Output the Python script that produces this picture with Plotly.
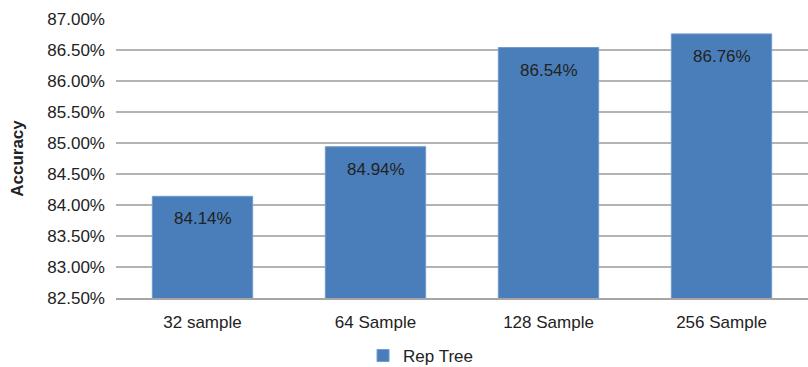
import plotly.graph_objects as go

categories = ["32 sample", "64 Sample", "128 Sample", "256 Sample"]
accuracy = [84.14, 84.94, 86.54, 86.76]
series_name = "Rep Tree"
y_ticks = [82.5 + 0.5 * i for i in range(10)]
y_tick_labels = [f"{v:.2f}%" for v in y_ticks]

font_family = "Liberation Sans, Arial, sans-serif"

fig = go.Figure(
    go.Bar(
        x=categories,
        y=accuracy,
        name=series_name,
        marker=dict(color="#4a7ebb", line=dict(color="#6f9bd0", width=1)),
        showlegend=True,
    )
)

# value labels placed just below the top of each bar
for cat, val in zip(categories, accuracy):
    fig.add_annotation(
        x=cat,
        y=val,
        text=f"{val:.2f}%",
        showarrow=False,
        yanchor="top",
        yshift=-11,
        font=dict(family=font_family, size=17, color="#222222"),
    )

fig.update_layout(
    width=808,
    height=367,
    margin=dict(l=116, r=0, t=19, b=69, autoexpand=False),
    paper_bgcolor="white",
    plot_bgcolor="white",
    bargap=0.42,
    font=dict(family=font_family, size=17, color="#222222"),
    showlegend=True,
    legend=dict(
        orientation="h",
        x=0.357,
        xanchor="left",
        yref="container",
        y=0.03,
        yanchor="middle",
        font=dict(family=font_family, size=17, color="#222222"),
        itemwidth=30,
        tracegroupgap=0,
    ),
    yaxis=dict(
        range=[82.5, 87.0],
        tickvals=y_ticks,
        ticktext=y_tick_labels,
        showgrid=True,
        gridcolor="#b3b3b3",
        gridwidth=1.5,
        zeroline=False,
        showline=False,
        ticks="",
        ticklabelstandoff=10,
        title=dict(
            text="<b>Accuracy</b>",
            font=dict(family=font_family, size=17, color="#222222"),
            standoff=19,
        ),
    ),
    xaxis=dict(
        showline=True,
        linecolor="#a6a6a6",
        linewidth=1.5,
        ticks="",
        showgrid=False,
        ticklabelstandoff=8,
    ),
)

fig.write_html("out.html")
